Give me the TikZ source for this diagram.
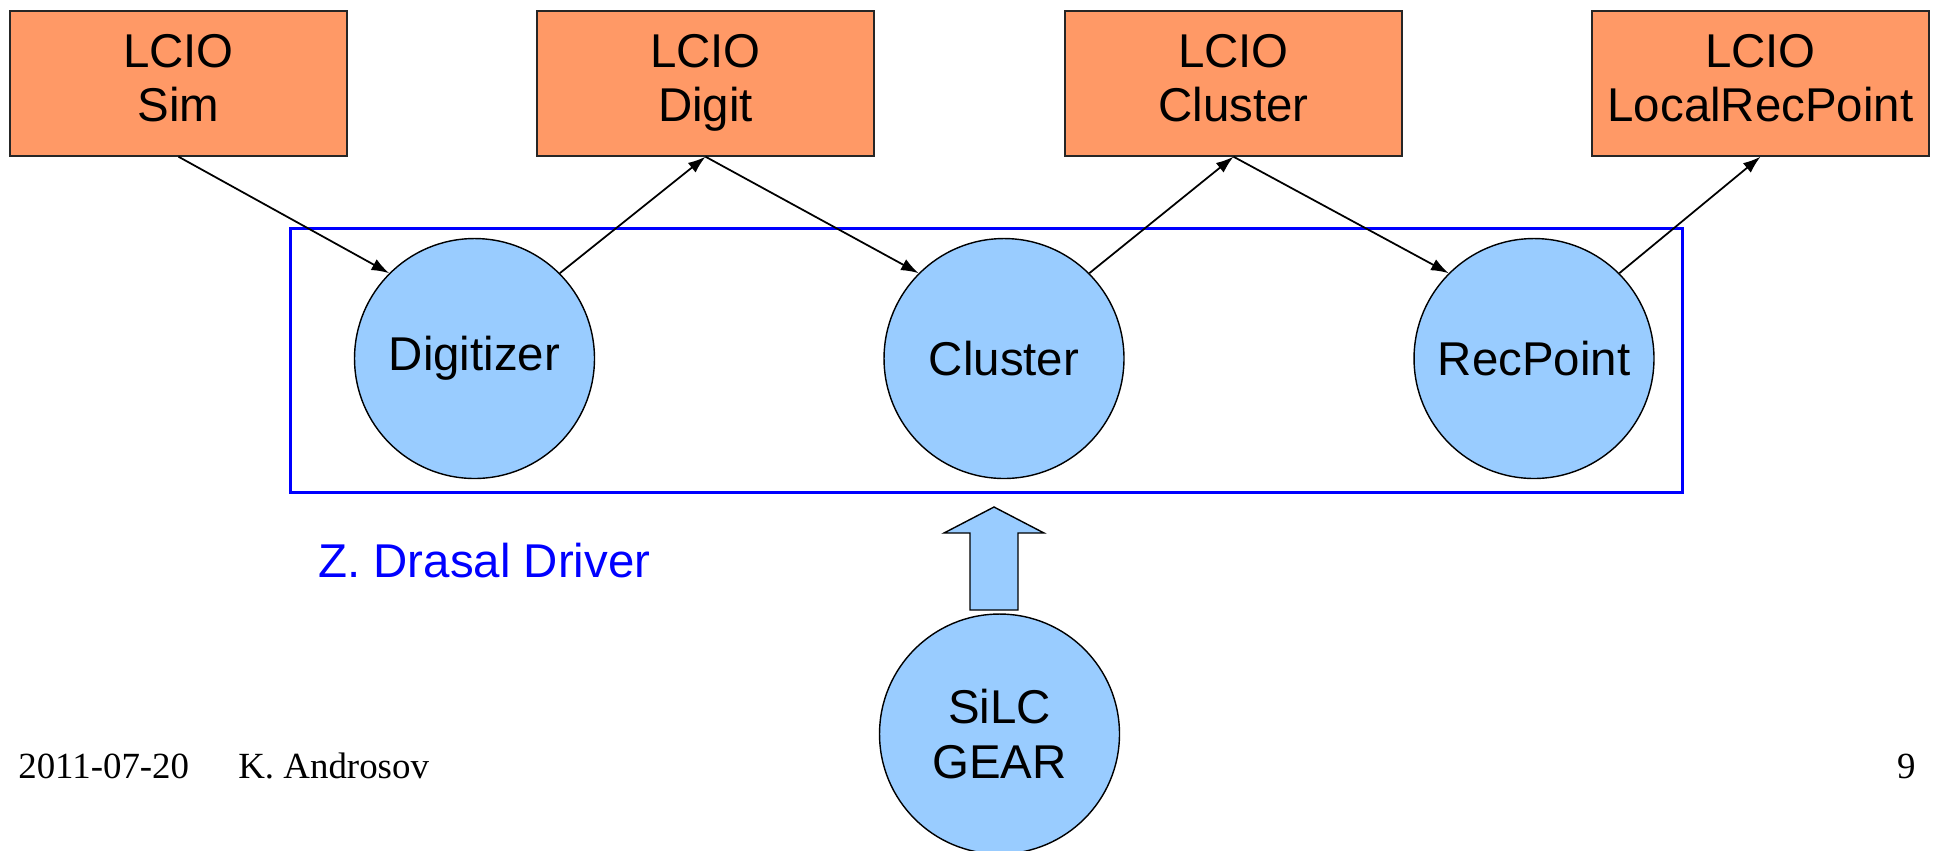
\documentclass[tikz,border=0pt]{standalone}
\usepackage{fontspec}
\setmainfont{Liberation Sans}
\newfontfamily\footfont{Liberation Serif}
\usetikzlibrary{arrows.meta}

\definecolor{lcioorange}{RGB}{255,153,102}
\definecolor{procblue}{RGB}{153,204,255}

\tikzset{
  lcio/.style={draw=black!85, fill=lcioorange, line width=0.8pt,
    minimum width=6.74cm, minimum height=2.9cm, align=center,
    font=\fontsize{27}{31}\selectfont},
  proc/.style={circle, draw, fill=procblue, line width=0.8pt,
    minimum size=4.8cm, inner sep=0pt, align=center,
    font=\fontsize{27}{31}\selectfont},
  flow/.style={-{Latex[length=10pt,width=7pt]}, line width=1pt},
  foot/.style={anchor=base west, inner sep=0pt,
    font=\footfont\fontsize{21}{25}\selectfont},
}

\begin{document}
\begin{tikzpicture}[x=0.02cm, y=-0.02cm]
  \useasboundingbox (0,0) rectangle (1936,850);

  \node[draw=blue, line width=1.7pt, minimum width=27.86cm,
    minimum height=5.3cm] (driver) at (986.5,360.5) {};
  \node[anchor=base west, inner sep=0pt, text=blue,
    font=\fontsize{27}{31}\selectfont] (drvlabel) at (318,577) {Z. Drasal Driver};

  \node[lcio] (sim) at (178.5,83.5) {\strut LCIO\\Sim\strut};
  \node[lcio] (digit) at (705.5,83.5) {\strut LCIO\\Digit\strut};
  \node[lcio] (clus) at (1233.5,83.5) {\strut LCIO\\Cluster\strut};
  \node[lcio] (lrp) at (1760.5,83.5) {\strut LCIO\\LocalRecPoint\strut};

  \node[proc] (dig) at (474.5,358.5) {Digitizer};
  \node[proc] (clu) at (1004,358.5) {Cluster};
  \node[proc] (rec) at (1534,358.5) {RecPoint};
  \node[proc] (gear) at (999.5,734) {SiLC\\GEAR};

  \draw[flow] (sim.south) -- (dig.135);
  \draw[flow] (dig.45) -- (digit.south);
  \draw[flow] (digit.south) -- (clu.135);
  \draw[flow] (clu.45) -- (clus.south);
  \draw[flow] (clus.south) -- (rec.135);
  \draw[flow] (rec.45) -- (lrp.south);

  \draw[fill=procblue, line width=0.8pt] (970,610) -- (970,533) -- (944,533)
    -- (994,507) -- (1044,533) -- (1018,533) -- (1018,610) -- cycle;

  \node[foot] (date) at (18,778) {2011-07-20};
  \node[foot] (author) at (238,778) {K. Androsov};
  \node[foot, anchor=base east] (page) at (1916,778) {9};
\end{tikzpicture}
\end{document}
